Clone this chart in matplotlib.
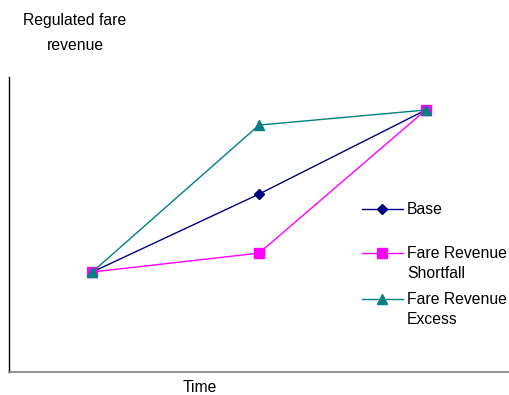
import matplotlib
matplotlib.use("Agg")
import matplotlib.pyplot as plt
from matplotlib.lines import Line2D

plt.rcParams['font.family'] = ['Liberation Sans', 'DejaVu Sans']

# three time points, revenue in arbitrary units
periods = [1, 2, 3]
base = [33.9, 60.3, 88.8]
shortfall = [33.9, 40.3, 88.8]
excess = [33.9, 83.7, 88.8]
labels = ["Base", "Fare Revenue\nShortfall", "Fare Revenue\nExcess"]

W, H = 509, 395
fig = plt.figure(figsize=(W / 100, H / 100), dpi=100)
ax = fig.add_axes([9 / W, 23 / H, 500 / W, 295 / H])

styles = [
    dict(color="#000080", marker="D", markersize=5),
    dict(color="#FF00FF", marker="s", markersize=7.5),
    dict(color="#008080", marker="^", markersize=7.5),
]
for ys, st in zip([base, shortfall, excess], styles):
    ax.plot(periods, ys, lw=1, clip_on=False, **st)

ax.set_xlim(0.5, 3.5)
ax.set_ylim(0, 100)
ax.set_xticks([])
ax.set_yticks([])
for s in ["top", "right"]:
    ax.spines[s].set_visible(False)
ax.spines["left"].set_color("black")
ax.spines["bottom"].set_color("#808080")
ax.spines["left"].set_linewidth(1)
ax.spines["bottom"].set_linewidth(1.2)

fs = 11.3
for y, line in zip([20, 45], ["Regulated fare", "revenue"]):
    fig.text(75 / W, 1 - y / H, line, ha="center", va="center", fontsize=fs)
fig.text(200 / W, 1 - 387 / H, "Time", ha="center", va="center", fontsize=fs)

# hand-placed legend entries
entry_y = [209, 253, 299]
for y, lab, st in zip(entry_y, labels, styles):
    fy = 1 - y / H
    fig.add_artist(Line2D([362 / W, 382 / W, 403 / W], [fy, fy, fy], lw=1,
                          markevery=[1], transform=fig.transFigure, **st))
    for k, line in enumerate(lab.split("\n")):
        fig.text(407 / W, 1 - (y + 20 * k) / H, line, ha="left",
                 va="center", fontsize=fs)

fig.savefig("out.png", dpi=100)
